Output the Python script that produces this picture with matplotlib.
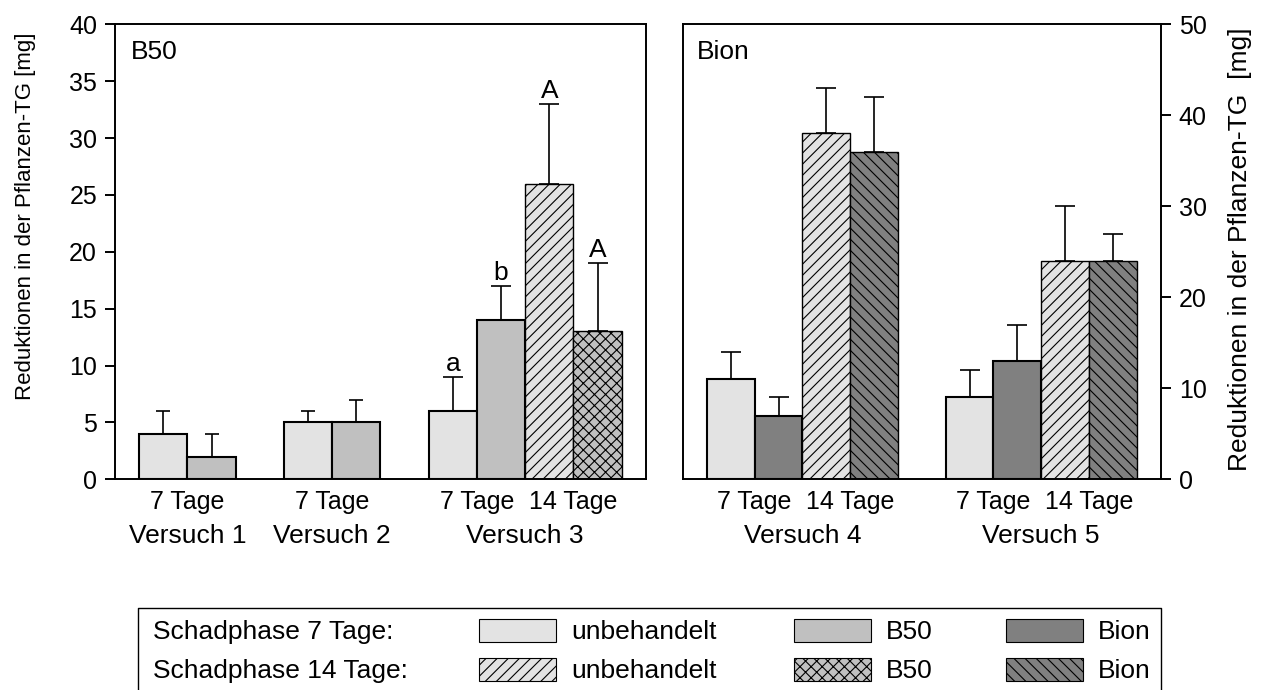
import matplotlib
matplotlib.use('Agg')
import matplotlib.pyplot as plt
from matplotlib.patches import Rectangle

plt.rcParams['font.family'] = ['Liberation Sans', 'DejaVu Sans']
plt.rcParams['hatch.linewidth'] = 0.8

# data
left_versuch = ['Versuch 1', 'Versuch 2', 'Versuch 3']
left_treat = [['u7', 'b7'], ['u7', 'b7'], ['u7', 'b7', 'u14', 'b14']]
left_mean = [[4, 2], [5, 5], [6, 14, 26, 13]]
left_err = [[2, 2], [1, 2], [3, 3, 7, 6]]
left_letters = [['', ''], ['', ''], ['a', 'b', 'A', 'A']]

right_versuch = ['Versuch 4', 'Versuch 5']
right_treat = [['u7', 'i7', 'u14', 'i14'], ['u7', 'i7', 'u14', 'i14']]
right_mean = [[11, 7, 38, 36], [9, 13, 24, 24]]
right_err = [[3, 2, 5, 6], [3, 4, 6, 3]]
right_letters = [['', '', '', ''], ['', '', '', '']]

ylabel = 'Reduktionen in der Pflanzen-TG [mg]'
ylabel_right = 'Reduktionen in der Pflanzen-TG  [mg]'

# fill colour and hatch per treatment
styles = {
    'u7': ('#e3e3e3', ''),
    'b7': ('#c0c0c0', ''),
    'i7': ('#808080', ''),
    'u14': ('#e3e3e3', '///'),
    'b14': ('#c0c0c0', 'xxx'),
    'i14': ('#808080', '\\\\\\'),
}


def draw_panel(ax, versuch, treat, mean, err, letters, capsize):
    x = 0.5
    tage_pos, tage_lab = [], []
    for g, name in enumerate(versuch):
        n = len(treat[g])
        for i in range(n):
            key = treat[g][i]
            fc, hatch = styles[key]
            lw = 1.0 if hatch else 1.5
            xc = x + 0.5 + i
            ax.bar(xc, mean[g][i], width=1.0, color=fc, edgecolor='black',
                   hatch=hatch, linewidth=lw, zorder=2)
            cs = 7 if letters[g][i] else capsize
            ax.errorbar(xc, mean[g][i], yerr=[[0], [err[g][i]]], fmt='none',
                        ecolor='black', elinewidth=1.2, capsize=cs,
                        capthick=1.2, zorder=1)
            if letters[g][i]:
                ax.annotate(letters[g][i], (xc, mean[g][i] + err[g][i]),
                            xytext=(0, 1), textcoords='offset points',
                            ha='center', va='bottom', fontsize=19)
        # tick labels under each pair of bars
        for p in range(0, n, 2):
            tage_pos.append(x + p + 1)
            tage_lab.append('7 Tage' if p == 0 else '14 Tage')
        ax.annotate(name, (x + n / 2, -0.125), xycoords=('data', 'axes fraction'),
                    ha='center', va='center', fontsize=19)
        x += n + 1
    ax.set_xlim(0, x - 0.5)
    ax.set_xticks(tage_pos)
    ax.set_xticklabels(tage_lab, fontsize=18)
    ax.tick_params(axis='x', length=0, pad=8)
    for s in ax.spines.values():
        s.set_linewidth(1.4)


fig = plt.figure(figsize=(12.7, 6.9), dpi=100)

ax1 = fig.add_axes([0.0906, 0.3054, 0.4179, 0.6594])
draw_panel(ax1, left_versuch, left_treat, left_mean, left_err, left_letters, 5)
ax1.set_ylim(0, 40)
ax1.set_yticks(range(0, 41, 5))
ax1.tick_params(axis='y', direction='out', length=7, width=1.4, labelsize=18, pad=6)
ax1.text(0.03, 0.94, 'B50', transform=ax1.transAxes, fontsize=19, va='center')

ax2 = fig.add_axes([0.5378, 0.3054, 0.3761, 0.6594])
draw_panel(ax2, right_versuch, right_treat, right_mean, right_err, right_letters, 7)
ax2.set_ylim(0, 50)
ax2.set_yticks(range(0, 51, 10))
ax2.yaxis.tick_right()
ax2.tick_params(axis='y', direction='out', length=7, width=1.4, labelsize=18, pad=6)
ax2.text(0.03, 0.94, 'Bion', transform=ax2.transAxes, fontsize=19, va='center')

fig.text(26 / 1270, 1 - 216 / 690, ylabel, rotation=90, ha='center', va='center', fontsize=16)
fig.text(1240 / 1270, 1 - 249 / 690, ylabel_right, rotation=90, ha='center', va='center', fontsize=19)

# legend drawn in pixel coordinates
lax = fig.add_axes([0, 0, 1, 1])
lax.set_xlim(0, 1270)
lax.set_ylim(690, 0)
lax.axis('off')
lax.plot([138, 138, 1161, 1161], [700, 608, 608, 700], color='black', lw=1.0)
rows = ['Schadphase 7 Tage:', 'Schadphase 14 Tage:']
cols = [('u', 'unbehandelt'), ('b', 'B50'), ('i', 'Bion')]
col_x = [479, 794, 1006]
row_y = [619, 658]
for r, rlab in enumerate(rows):
    lax.text(153, row_y[r] + 13, rlab, fontsize=19, va='center')
    suffix = '7' if r == 0 else '14'
    for c, (k, lab) in enumerate(cols):
        fc, hatch = styles[k + suffix]
        lax.add_patch(Rectangle((col_x[c], row_y[r]), 77, 23, facecolor=fc,
                                edgecolor='black', hatch=hatch, linewidth=0.8))
        lax.text(col_x[c] + 92, row_y[r] + 13, lab, fontsize=19, va='center')

fig.savefig('out.png', dpi=100)
